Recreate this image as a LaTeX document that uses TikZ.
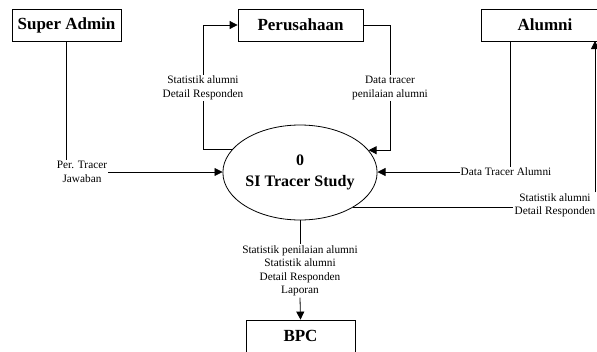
\documentclass[tikz,border=0pt]{standalone}
\usepackage{fontspec}
\setmainfont{Liberation Serif}
\usetikzlibrary{arrows.meta,shapes.geometric}
\begin{document}
\begin{tikzpicture}[x=1pt,y=1pt,
 box/.style={draw,line width=0.8pt,minimum height=32pt,inner sep=0pt,font=\fontsize{17}{20}\selectfont\bfseries},
 lbl/.style={align=center,inner sep=1pt,font=\fontsize{11.3}{13.5}\selectfont},
 flow/.style={line width=0.8pt},
 arr/.style={flow,-{Triangle[length=8pt,width=8pt]}}]
\useasboundingbox (0,0) rectangle (597,-351);
% external entities
\node[box,minimum width=109pt] (sa) at (66.5,-25) {Super Admin};
\node[box,minimum width=125pt] (per) at (300.5,-25) {Perusahaan};
\node[box,minimum width=128pt] (al) at (545,-25) {Alumni};
\node[box,minimum width=109pt] (bpc) at (300.5,-336) {BPC};
% process
\node[draw,ellipse,line width=0.8pt,minimum width=136pt,minimum height=95pt,inner sep=0pt,align=center,
      font=\fontsize{16}{21}\selectfont\bfseries] (e) at (300,-172.5) {0\\SI Tracer Study};
% labels
\node[lbl] (l1) at (82,-172) {Per. Tracer\\Jawaban};
\node[lbl] (l2) at (203,-88) {Statistik alumni\\Detail Responden};
\node[lbl] (l3) at (390,-88) {Data tracer\\penilaian alumni};
\node[lbl,inner sep=0.5pt] (l4) at (506,-172) {Data Tracer Alumni};
\node[lbl] (l5) at (555,-205.5) {Statistik alumni\\Detail Responden};
\node[lbl] (l6) at (300,-271) {Statistik penilaian alumni\\Statistik alumni\\Detail Responden\\Laporan};
\coordinate (a1) at (510,-41);
\coordinate (a2) at (595,-41);
% flows
\draw[flow] (sa.south) -- (sa.south |- l1.north);
\draw[arr] (l1.east) -- (l1.east -| e.west);
\draw[flow] (e.161.5) -| (l2.south);
\draw[arr] (l2.north) |- (per.west);
\draw[flow] (per.east) -| (l3.north);
\draw[arr] (l3.south) |- (e.18.5);
\draw[flow] (a1) -- (a1 |- l4.north);
\draw[arr] (l4.west) -- (l4.west -| e.east);
\draw[flow] (e.-33.2) -- (e.-33.2 -| l5.west);
\draw[arr] (l5.north -| a2) -- (a2);
\draw[flow] (e.south) -- (l6.north);
\draw[arr] (l6.south) -- (bpc.north);
\end{tikzpicture}
\end{document}
